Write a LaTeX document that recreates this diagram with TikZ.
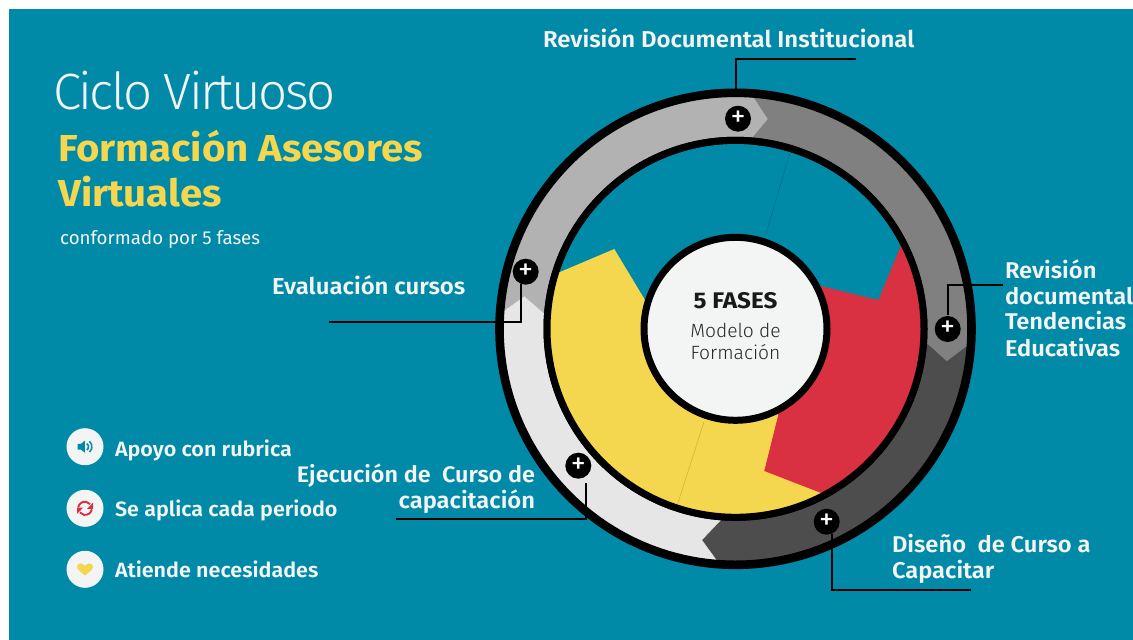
\documentclass[tikz,border=0pt]{standalone}
\usepackage{fontspec}
\usetikzlibrary{calc,arrows.meta}
\setmainfont{Fira Sans}
\newfontfamily\thinfont{Fira Sans Light}
\newfontfamily\titlefont{Fira Sans Light}[LetterSpace=-5]
\newfontfamily\boldfont{Fira Sans}[UprightFont=* SemiBold,FakeStretch=1.04]
\newfontfamily\heavyfont{Fira Sans}[UprightFont=* Bold,FakeStretch=1.07]
\definecolor{bgteal}{HTML}{008AA8}
\definecolor{ringA}{HTML}{B2B2B2}
\definecolor{ringB}{HTML}{808080}
\definecolor{ringC}{HTML}{4D4D4D}
\definecolor{ringD}{HTML}{E6E6E6}
\definecolor{sunny}{HTML}{F5D64F}
\definecolor{crimson}{HTML}{DA3142}
\definecolor{paper}{HTML}{F3F5F5}
\tikzset{
  x=1pt,y=-1pt,
  label/.style={anchor=base west,inner sep=0,outer sep=0,text=paper,font=\boldfont\fontsize{22.8}{22.8}\selectfont},
  labelr/.style={label,anchor=base east},
  legend/.style={label,font=\boldfont\fontsize{20.7}{20.7}\selectfont},
  ringdisc/.style={circle,draw=black,inner sep=0,outer sep=0},
  plusbtn/.style={circle,fill=black,inner sep=0,outer sep=0,minimum size=26pt,text=white,font=\fontsize{30}{30}\selectfont},
  lead/.style={draw=black,line width=2pt},
  iconbg/.style={circle,fill=paper,inner sep=0,outer sep=0,minimum size=37pt},
  faint/.style={line width=.5pt,draw=black,opacity=.18}
}
\newcommand{\ringseg}[8]{%
  \fill[#1,draw=#1,line width=.4pt] (#2) -- (#3) -- (#4) -- (#5) -- (#6) -- (#7) -- (#8) -- (hub) -- cycle;}
\begin{document}
\begin{tikzpicture}
\useasboundingbox (0,0) rectangle (1133,640);
\fill[white] (0,0) rectangle (1133,640);
\fill[bgteal] (9,9) rectangle (1133,640);
\coordinate (hub) at (735.5,328.8);
% chevrons
\coordinate (topT) at (768.3,119);  \coordinate (topO) at (755,99);     \coordinate (topI) at (752.7,137.7);
\coordinate (rgtT) at (946.7,361.7);\coordinate (rgtO) at (966.7,346.7);\coordinate (rgtI) at (928.3,345);
\coordinate (botT) at (701.7,540);  \coordinate (botO) at (716.7,560.7);\coordinate (botI) at (720,520.7);
\coordinate (lftT) at (524.3,296.7);\coordinate (lftO) at (503.3,311.7);\coordinate (lftI) at (543.3,313.3);
\foreach \n in {top,rgt,bot,lft}{
  \coordinate (\n X) at ($(\n T)!1.6!(\n O)$);
  \coordinate (\n Y) at ($(\n T)!1.3!(\n I)$);
}
\begin{scope}
  \clip (hub) circle (236pt);
  \ringseg{ringA}{lftY}{lftT}{lftX}{436,29}{topX}{topT}{topY}
  \ringseg{ringB}{topY}{topT}{topX}{1036,29}{rgtX}{rgtT}{rgtY}
  \ringseg{ringC}{rgtY}{rgtT}{rgtX}{1036,629}{botX}{botT}{botY}
  \ringseg{ringD}{botY}{botT}{botX}{436,629}{lftX}{lftT}{lftY}
\end{scope}
\node[ringdisc,line width=8.6pt,minimum size=472pt] (outerring) at (hub) {};
\node[ringdisc,line width=7pt,minimum size=377pt,fill=bgteal] (innerring) at (hub) {};
\begin{scope}
  \clip (hub) circle (187pt);
  \fill[sunny] (hub) -- (645,300) -- (614.3,249) -- (559.3,272.3) -- (520,289) -- (500,600) -- (900,600) -- cycle;
  \fill[crimson] (hub) -- (820.7,286) -- (878.3,300) -- (921,197) -- (1000,200) -- (1000,510) -- (860,508) -- (764.3,471) -- (778.3,415) -- cycle;
  \draw[faint] (790,153) -- (765,236.7);
  \draw[faint] (704,421.7) -- (677.3,505);
\end{scope}
\draw[line width=7pt] (hub) circle (188.5pt);
\node[ringdisc,line width=7pt,minimum size=183pt,fill=paper,align=center] (core) at (hub) {};
\node[anchor=base,inner sep=0,font=\heavyfont\fontsize{22.6}{22.6}\selectfont,text=black!90] (coreA) at (735.5,308) {5 FASES};
\node[anchor=base,inner sep=0,font=\thinfont\fontsize{19.2}{19.2}\selectfont,text=black!85] (coreB) at (735.5,337) {Modelo de};
\node[anchor=base,inner sep=0,font=\thinfont\fontsize{19.2}{19.2}\selectfont,text=black!85] (coreC) at (735.5,359) {Formación};
% plus buttons
\node[plusbtn] (pTop) at (738,118.7) {+};
\node[plusbtn] (pLft) at (525.7,271.7) {+};
\node[plusbtn] (pRgt) at (947.7,329) {+};
\node[plusbtn] (pBL) at (578.3,465.7) {+};
\node[plusbtn] (pBR) at (826.7,521.7) {+};
% connectors
\coordinate (eTop) at (856,59);
\coordinate (eLft) at (329,322);
\coordinate (eRgt) at (1003,285);
\coordinate (eBL) at (396,519);
\coordinate (eBR) at (971,590);
\draw[lead] (outerring.90) |- (eTop);
\draw[lead] (pLft.-112) |- (eLft);
\draw[lead,shorten <=1pt] (pRgt.north) |- (eRgt);
\draw[lead,shorten <=7pt] (pBL.-54) |- (eBL);
\draw[lead] (pBR.-67) |- (eBR);
% labels
\node[anchor=base west,inner sep=0,text=paper,font=\titlefont\fontsize{51}{51}\selectfont] (title) at (53,109.5) {Ciclo Virtuoso};
\node[anchor=base west,inner sep=0,text=sunny,font=\heavyfont\fontsize{37.5}{37.5}\selectfont] (subA) at (58,161.7) {Formación Asesores};
\node[anchor=base west,inner sep=0,text=sunny,font=\heavyfont\fontsize{37.5}{37.5}\selectfont] (subB) at (58,206.4) {Virtuales};
\node[anchor=base west,inner sep=0,text=paper,font=\fontsize{18.7}{18.7}\selectfont] (subC) at (60,244) {conformado por 5 fases};
\node[label,font=\boldfont\fontsize{23}{23}\selectfont] (lTop) at (543,47.5) {Revisión Documental Institucional};
\node[label,font=\boldfont\fontsize{23}{23}\selectfont] (lLft) at (272,294.5) {Evaluación cursos};
\node[label] (lRgtA) at (1005,278) {Revisión};
\node[label] (lRgtB) at (1005,304) {documental};
\node[label] (lRgtC) at (1005,329) {Tendencias};
\node[label] (lRgtD) at (1005,356) {Educativas};
\node[labelr,font=\boldfont\fontsize{22.5}{22.5}\selectfont] (lBLa) at (535,482) {Ejecución de\ \ Curso de};
\node[labelr] (lBLb) at (535,508) {capacitación};
\node[label] (lBRa) at (892,552.5) {Diseño\ \ de Curso a};
\node[label] (lBRb) at (892,578) {Capacitar};
% legend
\node[iconbg] (icoA) at (85,446.7) {};
\node[iconbg] (icoB) at (85,508.3) {};
\node[iconbg] (icoC) at (85,569.3) {};
\node[legend] (legA) at (115,456) {Apoyo con rubrica};
\node[legend] (legB) at (115,516) {Se aplica cada periodo};
\node[legend] (legC) at (115,577.5) {Atiende necesidades};
% speaker
\begin{scope}[shift={(icoA)}]
  \fill[bgteal] (-7.5,-2.8) -- (-4.2,-2.8) -- (-0.2,-6) -- (-0.2,6) -- (-4.2,2.8) -- (-7.5,2.8) -- cycle;
  \draw[bgteal,line width=1.5pt] (1.8,-3.2) arc (-58:58:3.8);
  \draw[bgteal,line width=1.5pt] (4.4,-5.4) arc (-50:50:7);
\end{scope}
% refresh
\begin{scope}[shift={(icoB)}]
  \draw[crimson,line width=1.9pt] (-6.8,-1) arc (190:320:6.8);
  \fill[crimson] (8,-5.6) -- (8,0.6) -- (2,0.6) -- cycle;
  \draw[crimson,line width=1.9pt] (6.8,1) arc (10:140:6.8);
  \fill[crimson] (-8,5.6) -- (-8,-0.6) -- (-2,-0.6) -- cycle;
\end{scope}
% heart
\fill[sunny,shift={(icoC)}] (0,6.3) .. controls (-3,3.6) and (-8,0.6) .. (-8,-2.6) .. controls (-8,-6.6) and (-2,-7) .. (0,-3.4) .. controls (2,-7) and (8,-6.6) .. (8,-2.6) .. controls (8,0.6) and (3,3.6) .. (0,6.3) -- cycle;
\end{tikzpicture}
\end{document}
